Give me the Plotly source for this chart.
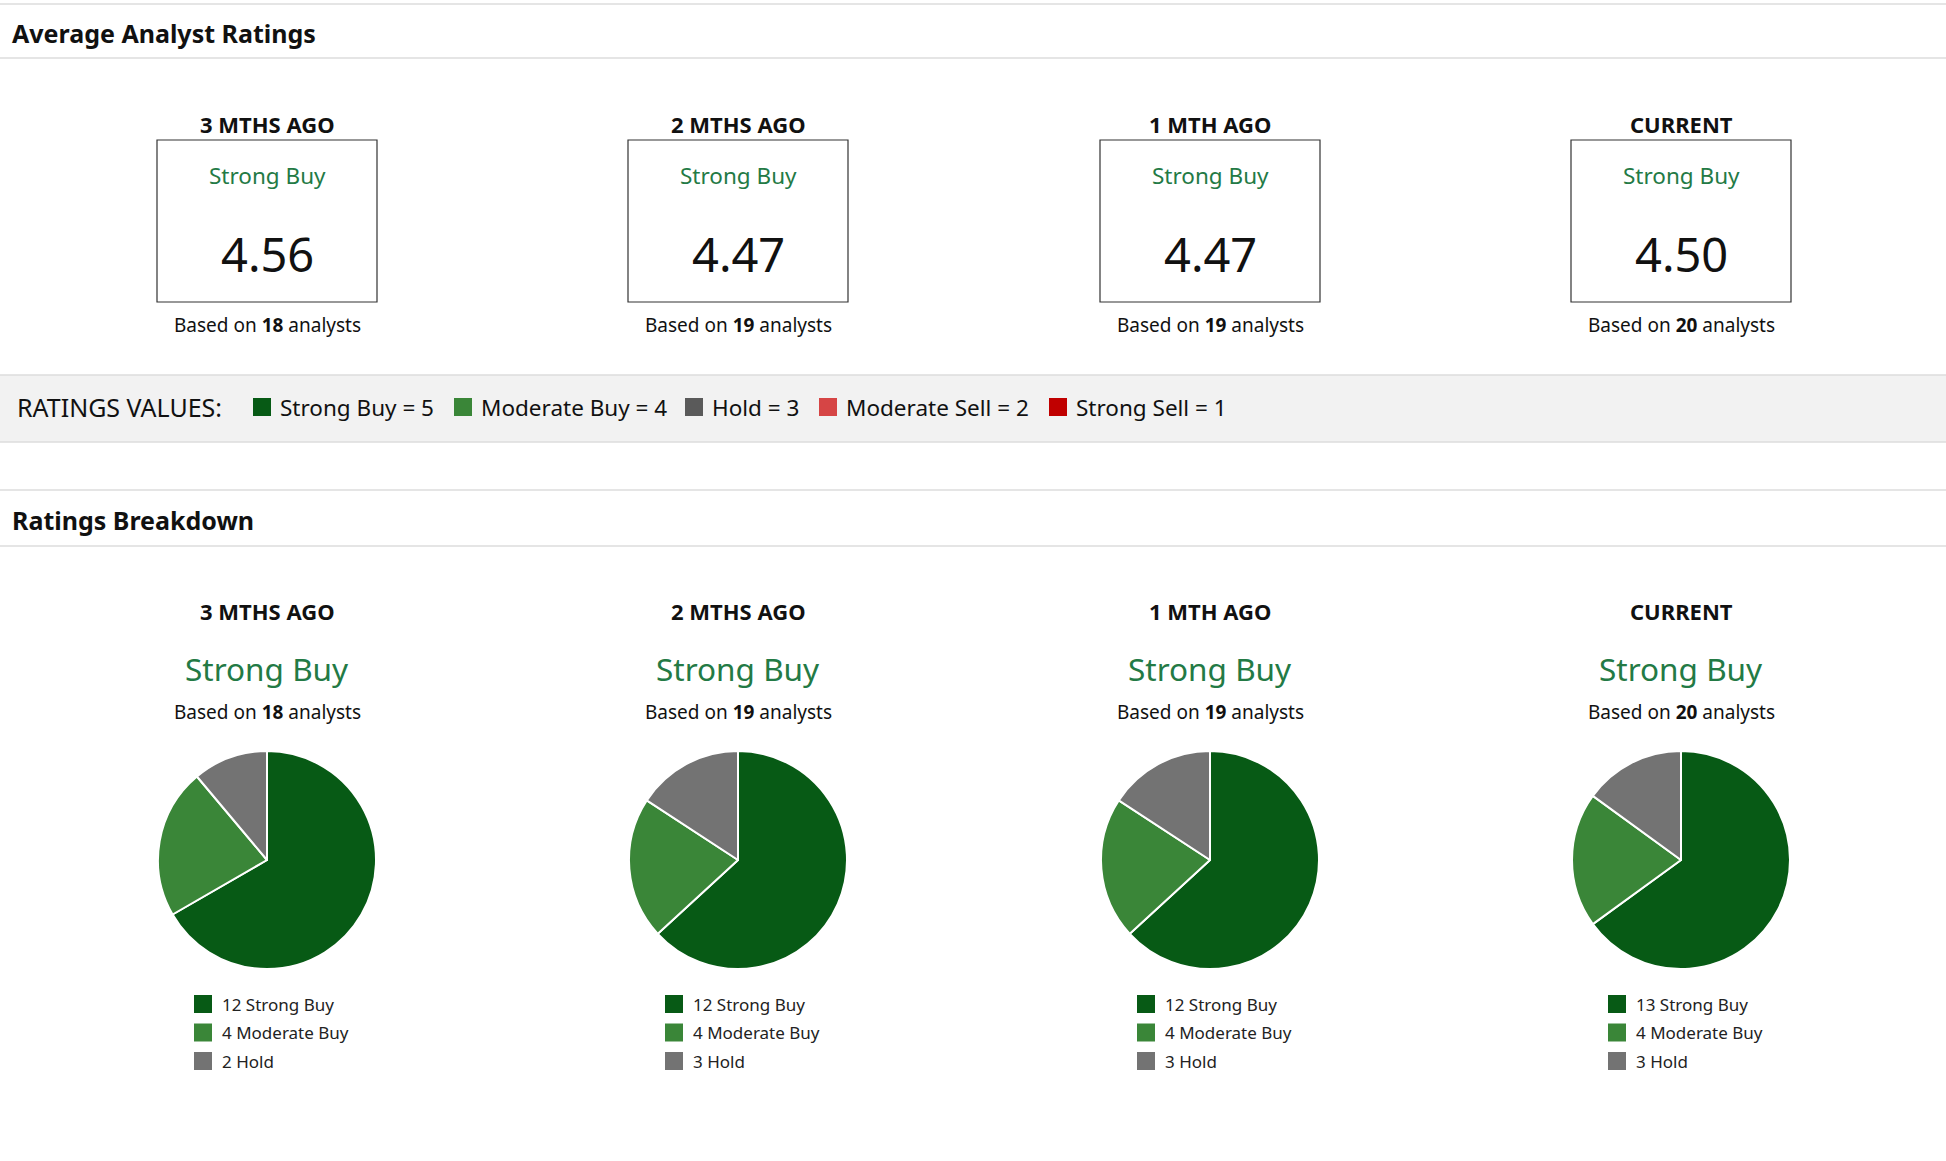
import plotly.graph_objects as go

# data
periods = ["3 MTHS AGO", "2 MTHS AGO", "1 MTH AGO", "CURRENT"]
consensus = ["Strong Buy", "Strong Buy", "Strong Buy", "Strong Buy"]
avg_ratings = [4.56, 4.47, 4.47, 4.50]
analyst_counts = [18, 19, 19, 20]

strong_buy = [12, 12, 12, 13]
moderate_buy = [4, 4, 4, 4]
hold = [2, 3, 3, 3]

rating_names = ["Strong Buy", "Moderate Buy", "Hold", "Moderate Sell", "Strong Sell"]
rating_values = [5, 4, 3, 2, 1]
rating_colors = ["#075a15", "#3a8638", "#5a5a5a", "#d64545", "#c00000"]
pie_names = ["Strong Buy", "Moderate Buy", "Hold"]
pie_colors = ["#075a15", "#3a8638", "#737373"]

W, H = 1946, 1150
FONT = "Noto Sans, Open Sans, sans-serif"
GREEN_TXT = "#237a45"
col_x = [267, 738, 1210, 1681]


def px(x):
    return x / W


def py(y):
    return 1 - y / H


fig = go.Figure()
shapes = []
ann = []


def text(x, y, s, size, color="#111", xanchor="center", bold=False):
    if bold:
        s = "<b>" + s + "</b>"
    ann.append(dict(x=px(x), y=py(y), xref="paper", yref="paper", text=s, showarrow=False,
                    xanchor=xanchor, yanchor="middle", font=dict(size=size, color=color, family=FONT)))


def hline(y, color="#dcdcdc"):
    shapes.append(dict(type="line", xref="paper", yref="paper", x0=0, x1=1, y0=py(y), y1=py(y),
                       line=dict(color=color, width=1.5)))


# section 1: average ratings
hline(4)
text(10, 33, "Average Analyst Ratings", 25, bold=True, xanchor="left")
hline(58)

for i, cx in enumerate(col_x):
    text(cx, 124, periods[i], 22, bold=True)
    shapes.append(dict(type="rect", xref="paper", yref="paper", x0=px(cx - 110), x1=px(cx + 110),
                       y0=py(302), y1=py(140), line=dict(color="#333", width=1.2)))
    text(cx, 175, consensus[i], 22.5, color=GREEN_TXT)
    text(cx, 254, "%.2f" % avg_ratings[i], 47, color="#111")
    text(cx, 325, "Based on <b>%d</b> analysts" % analyst_counts[i], 19)

# ratings values band
shapes.append(dict(type="rect", xref="paper", yref="paper", x0=0, x1=1, y0=py(442), y1=py(375),
                   fillcolor="#f2f2f2", line=dict(width=0), layer="below"))
hline(375)
hline(442)
text(15, 407, "RATINGS VALUES:", 25, xanchor="left")
sq_x = [253, 454, 685, 819, 1049]
for i, name in enumerate(rating_names):
    x0 = sq_x[i]
    shapes.append(dict(type="rect", xref="paper", yref="paper", x0=px(x0), x1=px(x0 + 18),
                       y0=py(416), y1=py(398), fillcolor=rating_colors[i], line=dict(width=0)))
    text(x0 + 25, 408, "%s = %d" % (name, rating_values[i]), 22.5, xanchor="left")

# section 2: breakdown
hline(490)
hline(546)
text(10, 520, "Ratings Breakdown", 25, bold=True, xanchor="left")

R = 109
for i, cx in enumerate(col_x):
    text(cx, 611, periods[i], 22, bold=True)
    text(cx, 668, consensus[i], 31.5, color=GREEN_TXT)
    text(cx, 712, "Based on <b>%d</b> analysts" % analyst_counts[i], 19)
    counts = [strong_buy[i], moderate_buy[i], hold[i]]
    fig.add_trace(go.Pie(
        labels=pie_names, values=counts, sort=False, direction="clockwise", rotation=0,
        marker=dict(colors=pie_colors, line=dict(color="white", width=2)),
        textinfo="none", hoverinfo="label+value", showlegend=False,
        domain=dict(x=[px(cx - R), px(cx + R)], y=[py(860 + R), py(860 - R)]),
    ))
    for j, n in enumerate(counts):
        yy = 1004 + j * 28.5
        shapes.append(dict(type="rect", xref="paper", yref="paper", x0=px(cx - 73), x1=px(cx - 55),
                           y0=py(yy + 9), y1=py(yy - 9), fillcolor=pie_colors[j], line=dict(width=0)))
        text(cx - 47.5, yy, "%d %s" % (n, pie_names[j]), 17, color="#222", xanchor="left")

fig.update_layout(
    width=W, height=H, margin=dict(l=0, r=0, t=0, b=0),
    paper_bgcolor="white", plot_bgcolor="white",
    shapes=shapes, annotations=ann, font=dict(family=FONT),
)

fig.write_html("out.html", config={"displayModeBar": False},
               post_script="document.body.style.margin='0';")
